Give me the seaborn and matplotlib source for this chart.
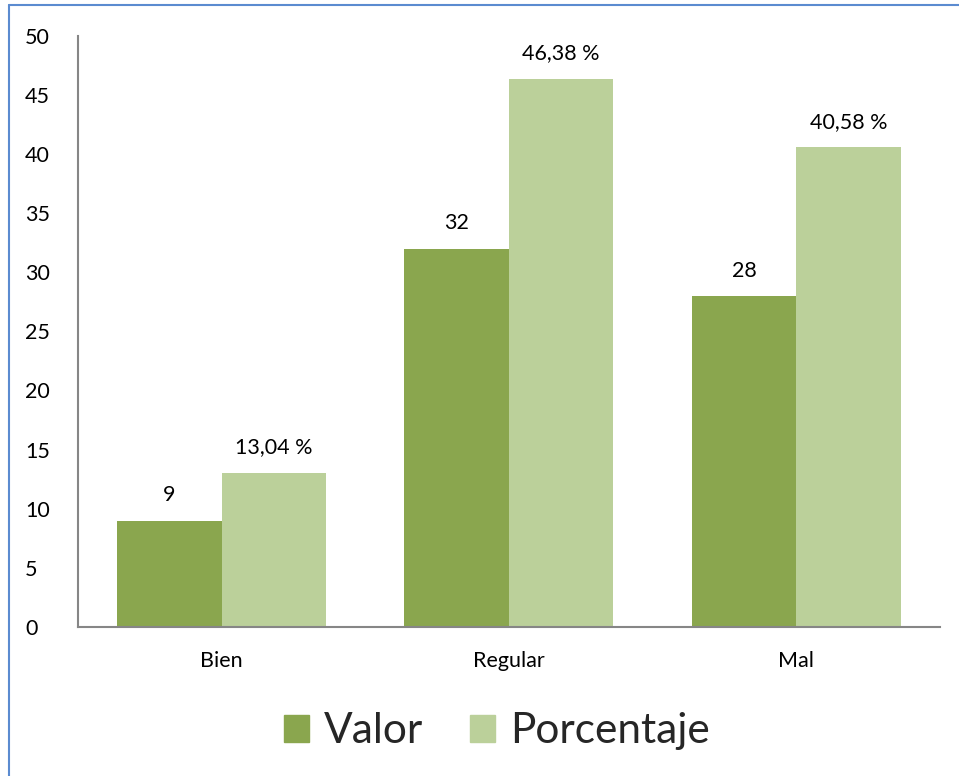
import matplotlib
matplotlib.use('Agg')
from matplotlib import pyplot as plt
from matplotlib.lines import Line2D
import seaborn as sns
import pandas as pd

categorias = ['Bien', 'Regular', 'Mal']
valor = [9, 32, 28]
porcentaje = [13.04, 46.38, 40.58]
etiquetas_valor = ['9', '32', '28']
etiquetas_porcentaje = ['13,04 %', '46,38 %', '40,58 %']
series = ['Valor', 'Porcentaje']
colores = ['#8AA64E', '#BBD09A']

data = pd.DataFrame({
    'categoria': categorias * 2,
    'serie': [series[0]] * 3 + [series[1]] * 3,
    'y': valor + porcentaje,
})

sns.set_theme(style='white')
plt.rcParams['font.family'] = ['Lato', 'DejaVu Sans']

fig = plt.figure(figsize=(9.59, 7.76), dpi=100)
ax = fig.add_axes([0.0813, 0.192, 0.8987, 0.762])
sns.barplot(data=data, x='categoria', y='y', hue='serie', palette=colores,
            width=0.728, gap=0, saturation=1, ax=ax, linewidth=0)

for cont, labs in zip(ax.containers, [etiquetas_valor, etiquetas_porcentaje]):
    ax.bar_label(cont, labels=labs, padding=11, fontsize=15.5, color='black')

ax.set_ylim(0, 50)
ax.set_yticks(range(0, 51, 5))
ax.set_xlim(-0.5, 2.5)
ax.set_xlabel('')
ax.set_ylabel('')
ax.tick_params(axis='both', length=0, labelsize=15.5, colors='black')
ax.tick_params(axis='x', pad=17)
ax.tick_params(axis='y', pad=38)
for lbl in ax.get_yticklabels():
    lbl.set_horizontalalignment('left')
for s in ['top', 'right']:
    ax.spines[s].set_visible(False)
for s in ['left', 'bottom']:
    ax.spines[s].set_color('#868686')
    ax.spines[s].set_linewidth(1.5)

ax.legend_.remove()
handles = [plt.Rectangle((0, 0), 1, 1, color=c) for c in colores]
fig.legend(handles, series, loc='center', bbox_to_anchor=(0.518, 0.058), ncol=2,
           frameon=False, fontsize=30.5, handlelength=0.6, handleheight=0.6,
           handletextpad=0.35, columnspacing=1.1)

# borde del area del grafico (solo izquierda y arriba visibles)
fig.add_artist(Line2D([0.0097, 0.0097], [0, 0.993], transform=fig.transFigure, color='#5B8BD0', lw=1.5))
fig.add_artist(Line2D([0.0097, 1.0], [0.993, 0.993], transform=fig.transFigure, color='#5B8BD0', lw=1.5))

fig.savefig('out.png', dpi=100, facecolor='white')
